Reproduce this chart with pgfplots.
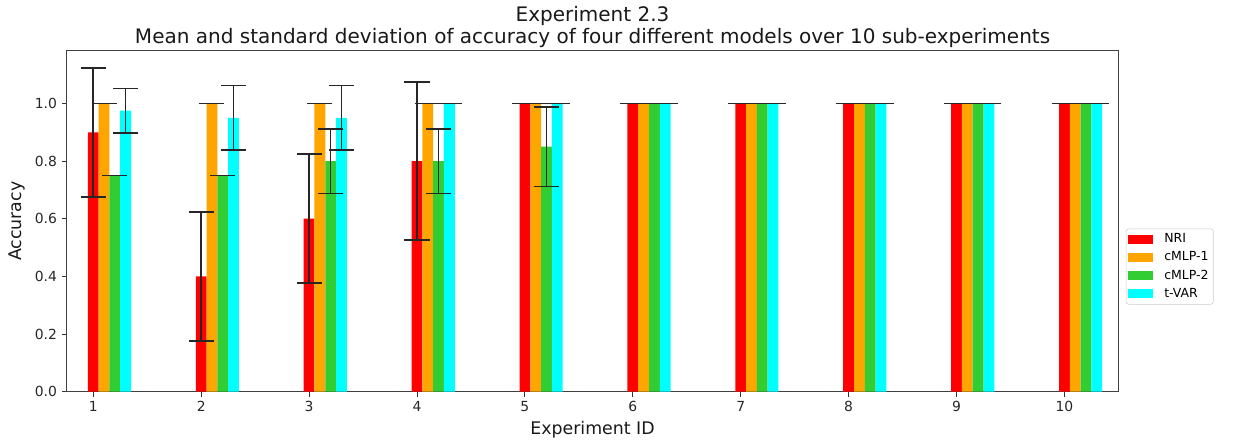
\documentclass[border=0pt]{standalone}
\usepackage{fontspec}
\setmainfont{DejaVu Sans}
\usepackage{pgfplots}
\usepackage{pgfplotstable}
\pgfplotsset{compat=1.18}

\definecolor{nricol}{HTML}{FF0000}
\definecolor{mlpone}{HTML}{FFA500}
\definecolor{mlptwo}{HTML}{32CD32}
\definecolor{tvar}{HTML}{00FFFF}
\definecolor{errc}{HTML}{262626}

% mean and standard deviation of accuracy per sub-experiment
\pgfplotstableread{
id mean std
1  0.90 0.2236
2  0.40 0.2236
3  0.60 0.2236
4  0.80 0.2739
5  1.00 0
6  1.00 0
7  1.00 0
8  1.00 0
9  1.00 0
10 1.00 0
}\nri
\pgfplotstableread{
id mean std
1  1.00 0
2  1.00 0
3  1.00 0
4  1.00 0
5  1.00 0
6  1.00 0
7  1.00 0
8  1.00 0
9  1.00 0
10 1.00 0
}\cmlpone
\pgfplotstableread{
id mean std
1  0.75 0
2  0.75 0
3  0.80 0.1118
4  0.80 0.1118
5  0.85 0.1375
6  1.00 0
7  1.00 0
8  1.00 0
9  1.00 0
10 1.00 0
}\cmlptwo
\pgfplotstableread{
id mean std
1  0.975 0.0770
2  0.950 0.1118
3  0.950 0.1118
4  1.000 0
5  1.000 0
6  1.000 0
7  1.000 0
8  1.000 0
9  1.000 0
10 1.000 0
}\tvar

\pgfplotsset{
  barstyle/.style={ybar, bar width=0.1, bar shift=0pt, draw=none, area legend,
    legend image code/.code={\fill[##1, sharp corners] (0pt,-3.25pt) rectangle (18pt,3.25pt);
      \path (24pt,0pt);}},
  errstyle/.style={draw=none, forget plot,
    error bars/.cd, y dir=both, y explicit, error mark=|,
    error bar style={draw=errc, line width=1.15pt},
    error mark options={draw=errc, line width=1.15pt, mark size=9pt}},
}

\begin{document}
\begin{tikzpicture}
\useasboundingbox (-48.0pt,-39.8pt) rectangle (839.7pt,282.0pt);
\begin{axis}[
  at={(0pt,0pt)}, anchor=south west,
  scale only axis,
  width=757.2pt, height=245.5pt,
  xmin=0.7535, xmax=10.5,
  ymin=0, ymax=1.183,
  xtick={1,2,3,4,5,6,7,8,9,10},
  ytick={0,0.2,0.4,0.6,0.8,1.0},
  yticklabel style={/pgf/number format/.cd, fixed, fixed zerofill, precision=1},
  /pgf/number format/assume math mode=true,
  tick align=outside, tick pos=left,
  major tick length=3.5pt,
  every tick/.style={black!80, line width=0.6pt},
  axis line style={black!75, line width=0.6pt},
  ticklabel style={font=\fontsize{10}{12}\selectfont, text=black!85},
  xlabel={Experiment ID},
  ylabel={Accuracy},
  label style={font=\fontsize{12.5}{15}\selectfont, text=black!90},
  title={Experiment 2.3\\Mean and standard deviation of accuracy of four different models over 10 sub-experiments},
  title style={align=center, font=\fontsize{14.4}{15.7}\selectfont, text=black!90, yshift=-7.5pt},
  legend style={at={(1.007,0.367)}, anchor=west, draw=black!20, rounded corners=2pt,
    font=\fontsize{9}{10.8}\selectfont, inner sep=1.5pt, row sep=1.0pt,
    nodes={inner sep=2pt}},
  legend cell align=left,
  clip=false,
]
\addplot[barstyle, fill=nricol] table[x expr=\thisrow{id}, y=mean]{\nri};
\addplot[barstyle, fill=mlpone] table[x expr=\thisrow{id}+0.1, y=mean]{\cmlpone};
\addplot[barstyle, fill=mlptwo] table[x expr=\thisrow{id}+0.2, y=mean]{\cmlptwo};
\addplot[barstyle, fill=tvar] table[x expr=\thisrow{id}+0.3, y=mean]{\tvar};
\legend{NRI, cMLP-1, cMLP-2, t-VAR}

\addplot[errstyle] table[x expr=\thisrow{id}, y=mean, y error=std]{\nri};
\addplot[errstyle] table[x expr=\thisrow{id}+0.1, y=mean, y error=std]{\cmlpone};
\addplot[errstyle] table[x expr=\thisrow{id}+0.2, y=mean, y error=std]{\cmlptwo};
\addplot[errstyle] table[x expr=\thisrow{id}+0.3, y=mean, y error=std]{\tvar};
\end{axis}
\end{tikzpicture}
\end{document}
